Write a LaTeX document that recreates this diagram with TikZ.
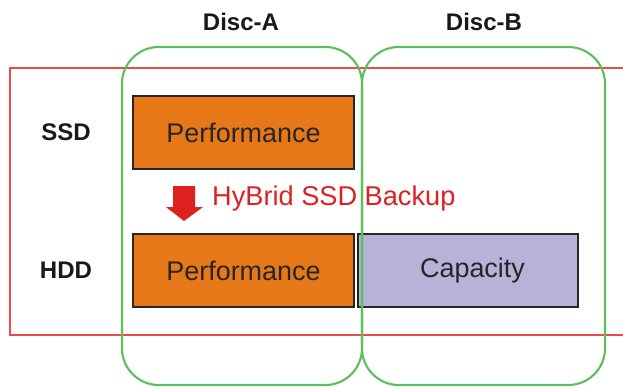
\documentclass[tikz,border=0pt]{standalone}
\usepackage{fontspec}
\setmainfont{Liberation Sans}
\definecolor{perforange}{HTML}{E67818}
\definecolor{caplilac}{HTML}{B8B1D8}
\definecolor{backupred}{HTML}{DD2020}
\definecolor{tierred}{HTML}{EE4A44}
\definecolor{discgreen}{HTML}{5CBF5C}
\tikzset{
  tierbox/.style={draw=black!85, line width=1.7pt, minimum width=221*0.03cm,
    minimum height=73*0.03cm, inner sep=0pt, font=\fontsize{23}{26}\selectfont, text=black!85},
  tierlabel/.style={font=\bfseries\fontsize{20.5}{24}\selectfont, text=black!90},
  discbox/.style={draw=discgreen, line width=1.8pt, rounded corners=1.1cm}
}
\begin{document}
\begin{tikzpicture}[x=0.03cm, y=-0.03cm]
            \useasboundingbox (0,0) rectangle (623,387);
            \clip (0,0) rectangle (623,387);

            \draw[tierred, line width=1.8pt] (10,68) rectangle (640,335);

            \node[tierbox, fill=perforange] (perfSsd) at (243.5,132.5) {Performance};
            \node[tierbox, fill=perforange] (perfHdd) at (243.5,270.5) {Performance};
            \node[tierbox, fill=caplilac, minimum width=220*0.03cm] (capHdd) at (467.5,270.5) {\hspace{0.3cm}Capacity};

            \draw[discbox] (122,47) rectangle (362,385);
            \draw[discbox] (362,47) rectangle (605,385);

            \node[tierlabel] (discA) at (241,22) {Disc-A};
            \node[tierlabel] (discB) at (484,22) {Disc-B};
            \node[tierlabel] (ssd) at (66,132) {SSD};
            \node[tierlabel] (hdd) at (66,270) {HDD};

            \fill[backupred] (173,186) -- (195,186) -- (195,207) -- (203,207)
              -- (184,221) -- (166,207) -- (173,207) -- cycle;
            \node[anchor=west, text=backupred, inner sep=0pt,
              font=\fontsize{23.2}{26}\selectfont] (backup) at (212,198) {HyBrid SSD Backup};
        \end{tikzpicture}
\end{document}
